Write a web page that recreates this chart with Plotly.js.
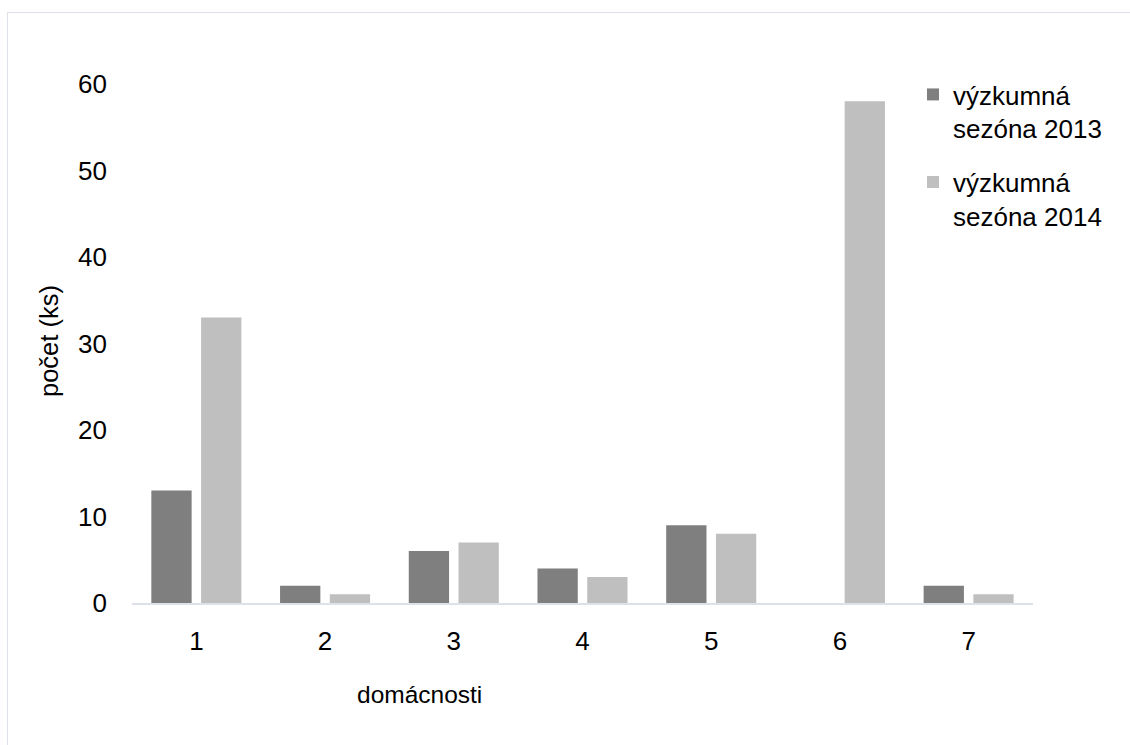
<!DOCTYPE html>
<html>
<head>
<meta charset="utf-8">
<script src="https://cdn.plot.ly/plotly-3.0.1.min.js"></script>
<style>
  html, body { margin: 0; padding: 0; background: #fff; }
  #chart { position: absolute; left: 0; top: 0; width: 1130px; height: 745px; }
  #frame { position: absolute; left: 7px; top: 12px; width: 1130px; height: 760px;
           border: 1px solid #dde1e8; pointer-events: none; z-index: 5; }
</style>
</head>
<body>
<div id="chart"></div>
<div id="frame"></div>
<script>
const categories = ['1', '2', '3', '4', '5', '6', '7'];
const season2013 = [13, 2, 6, 4, 9, 0, 2];
const season2014 = [33, 1, 7, 3, 8, 58, 1];
const seriesNames = ['výzkumná<br>sezóna 2013', 'výzkumná<br>sezóna 2014'];
const yTicks = [0, 10, 20, 30, 40, 50, 60];

const font = 'Liberation Sans, Arial, sans-serif';

const traces = [
  { type: 'bar', x: categories, y: season2013, name: seriesNames[0], legendgroup: 'a',
    marker: { color: '#7f7f7f' }, hoverinfo: 'none' },
  { type: 'bar', x: categories, y: season2014, name: seriesNames[1], legendgroup: 'b',
    marker: { color: '#bfbfbf' }, hoverinfo: 'none' }
];

const layout = {
  width: 1130, height: 745,
  margin: { l: 132, r: 97, t: 84, b: 142 },
  paper_bgcolor: '#ffffff', plot_bgcolor: '#ffffff',
  font: { family: font, size: 24, color: '#000000' },
  barmode: 'group', bargap: 0.227, bargroupgap: 0.19,
  showlegend: true,
  legend: {
    x: 0.8668, y: 1.025, yanchor: 'top', xanchor: 'left',
    valign: 'top', tracegroupgap: 17, traceorder: 'grouped',
    font: { family: font, size: 26, color: '#000000' },
    bgcolor: 'rgba(0,0,0,0)', itemclick: false
  },
  xaxis: {
    type: 'category', showgrid: false, zeroline: false,
    showline: true, linecolor: '#dde1e8', linewidth: 2,
    ticks: '', ticklabelstandoff: 14,
    tickfont: { family: font, size: 26, color: '#000000' }
  },
  yaxis: {
    range: [0, 60], showgrid: false, zeroline: false, showline: false,
    tickmode: 'array', tickvals: yTicks, ticks: '', ticklabelstandoff: 24,
    tickfont: { family: font, size: 26, color: '#000000' }
  },
  annotations: [
    { text: 'domácnosti', xref: 'paper', yref: 'paper', x: 0.3196, y: -0.177,
      xanchor: 'center', yanchor: 'middle', showarrow: false,
      font: { family: font, size: 24.5, color: '#000000' } },
    { text: 'počet (ks)', xref: 'paper', yref: 'paper', x: -0.092, y: 0.505,
      xanchor: 'center', yanchor: 'middle', showarrow: false, textangle: -90,
      font: { family: font, size: 25.5, color: '#000000' } }
  ]
};

Plotly.newPlot('chart', traces, layout, { staticPlot: true, displayModeBar: false });
</script>
</body>
</html>
